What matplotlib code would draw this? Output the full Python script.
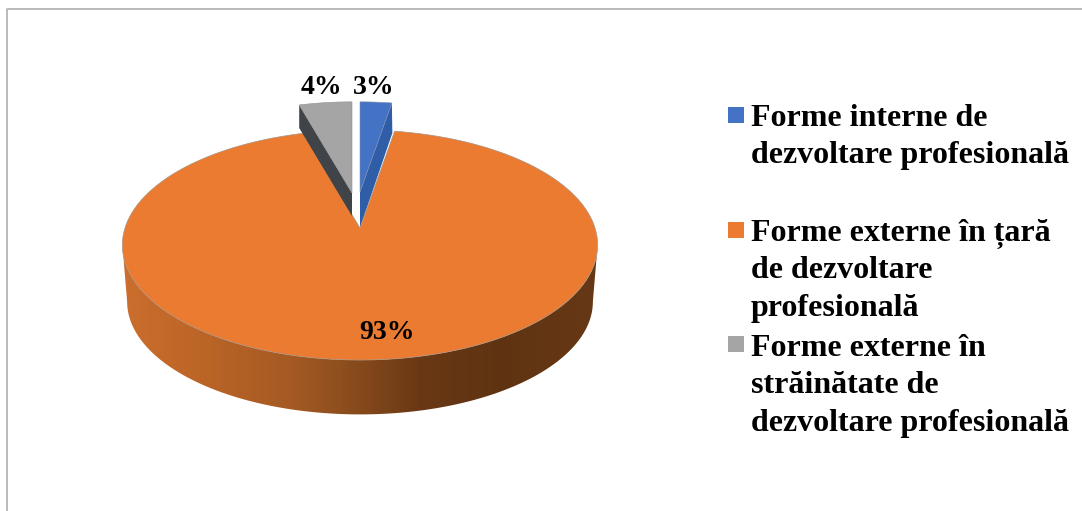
import numpy as np
import matplotlib
matplotlib.use("Agg")
import matplotlib.pyplot as plt
from matplotlib.colors import LinearSegmentedColormap
from matplotlib.patches import Polygon, Rectangle

shares = [2.7, 92.85, 4.45]
legend_labels = ["Forme interne de\ndezvoltare profesională",
                 "Forme externe în țară\nde dezvoltare\nprofesională",
                 "Forme externe în\nstrăinătate de\ndezvoltare profesională"]
top_colors = ["#4472C4", "#EA7B31", "#A5A5A5"]
side_colors = ["#2F5DA8", None, "#404448"]

W, H = 1082, 511
fig = plt.figure(figsize=(W / 100, H / 100), dpi=100, facecolor="white")
ax = fig.add_axes([0, 0, 1, 1])
wedges, _, autotexts = ax.pie(shares, startangle=90, counterclock=False, autopct="%.0f%%")
angles = [(w.theta1, w.theta2) for w in wedges]
for w in wedges:
    w.remove()
ax.set_aspect("auto")
ax.set_xlim(0, W)
ax.set_ylim(H, 0)
ax.axis("off")

K, A, B = 0.148, 112.5, 235.0


def project(theta, apex, scale=1.0):
    t = np.radians(theta)
    x, y = np.cos(t), np.sin(t)
    d = 1 + K * y
    return np.column_stack([apex[0] + scale * B * x / d, apex[1] - scale * A * y / d])


def wedge_poly(span, apex, scale=1.0):
    arc = project(np.linspace(span[0], span[1], 300), apex, scale)
    return np.vstack([[apex], arc])


# orange extruded rim with a horizontal shading
main_apex = (360, 228)
rim_theta = np.linspace(188.5, 351.5, 300)
rim = np.vstack([project(rim_theta, main_apex),
                 project(rim_theta[::-1], (main_apex[0], main_apex[1] + 57), 0.98)])
rim_patch = Polygon(rim, closed=True, facecolor="none", edgecolor="none")
ax.add_patch(rim_patch)
stops_x = np.array([122, 200, 290, 340, 420, 500, 597])
stops_c = ["#CB6E2E", "#BC6527", "#A55A24", "#8F4F1E", "#6A3814", "#5F3312", "#673815"]
cmap = LinearSegmentedColormap.from_list("rim", list(zip((stops_x - 122) / 475, stops_c)))
img = ax.imshow(np.linspace(0, 1, 475)[None, :], cmap=cmap, extent=(122, 597, 420, 235),
                aspect="auto", zorder=2)
img.set_clip_path(rim_patch)
ax.set_xlim(0, W)
ax.set_ylim(H, 0)

ax.add_patch(Polygon(wedge_poly(angles[1], main_apex), closed=True, facecolor=top_colors[1],
                     edgecolor="#A89484", linewidth=0.5, zorder=3.5))

# exploded gray slice
g_apex, g_scale, g_depth = (352, 193), 0.93, 23
g_poly = wedge_poly(angles[2], g_apex, g_scale)
g_edge = project(np.array([angles[2][1]]), g_apex, g_scale)[0]
ax.add_patch(Polygon([g_edge, g_edge + (0, g_depth), (g_apex[0], g_apex[1] + g_depth), g_apex],
                     closed=True, facecolor=side_colors[2], edgecolor="none", zorder=4))
ax.add_patch(Polygon(g_poly, closed=True, facecolor=top_colors[2], edgecolor="#8F8F8F",
                     linewidth=0.4, zorder=5))

# exploded blue slice
b_apex, b_scale = (360, 192), 0.92
b_poly = wedge_poly(angles[0], b_apex, b_scale)
b_edge = project(np.array([angles[0][0]]), b_apex, b_scale)[0]
ax.add_patch(Polygon([b_edge, b_edge + (0.5, 30), (b_apex[0], b_apex[1] + 36), b_apex],
                     closed=True, facecolor=side_colors[0], edgecolor="none", zorder=3))
ax.add_patch(Polygon(b_poly, closed=True, facecolor=top_colors[0], edgecolor="#7F8FA8",
                     linewidth=0.4, zorder=5))

serif = {"family": "Liberation Serif", "fontweight": "bold", "color": "black"}
label_pos = [(374, 94), (387, 339), (321, 94)]
for t, p in zip(autotexts, label_pos):
    t.set_position(p)
    t.set(ha="center", va="baseline", fontsize=20, zorder=6, **serif)

legend_box_y = [107, 222, 336]
legend_baseline = [126, 241, 356]
for lab, col, by, bl in zip(legend_labels, top_colors, legend_box_y, legend_baseline):
    ax.add_patch(Rectangle((728, by), 16, 16, facecolor=col, edgecolor="none", zorder=6))
    for i, line in enumerate(lab.split("\n")):
        ax.text(751, bl + i * 37.3, line, ha="left", va="baseline", fontsize=23, **serif)

# outer chart frame
ax.plot([W + 5, 6.5, 6.5], [9.5, 9.5, H + 5], color="#AFAFAF", lw=1.2, zorder=1, clip_on=True)

fig.savefig("out.png", dpi=100)
